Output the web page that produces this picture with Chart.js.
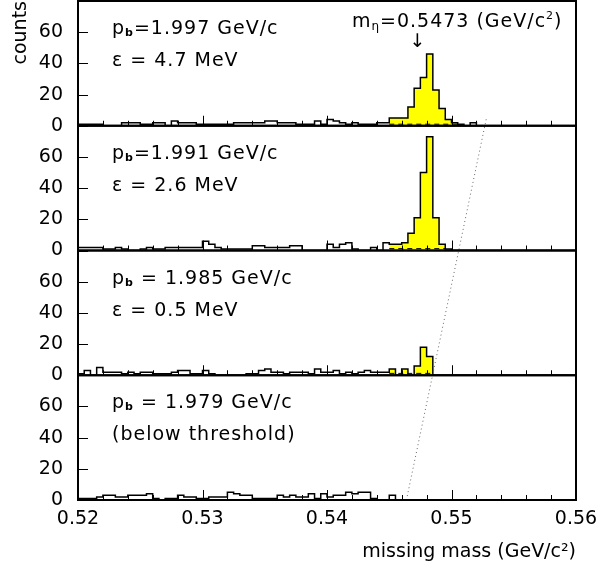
<!DOCTYPE html>
<html>
<head>
<meta charset="utf-8">
<script src="https://cdn.jsdelivr.net/npm/chart.js@4.4.0/dist/chart.umd.min.js"></script>
<style>
  html, body { margin: 0; padding: 0; background: #fff; }
  #wrap { width: 600px; height: 573px; }
</style>
</head>
<body>
<div id="wrap"><canvas id="chart" width="600" height="573"></canvas></div>
<script>
// histogram range, 0.5 MeV bins
const massMin = 0.52;
const massMax = 0.56;
const binWidth = 0.0005;

// counts per bin, one array per beam momentum (top to bottom)
const countsP1 = [1,1,1,1,0,0,0,2,2,2, 1,1,2,2,0,3,2,2,2,1, 1,1,1,1,1,2,2,2,2,2, 3,3,2,2,2,1,1,1,3,1,
                  4,3,2,1,2,1,1,1,2,2, 5,5,5,12,24,31,46,23,11,4, 2,1,0,2,0,0,0,0,0,0, 0,0,0,0,0,0,0,0,0,0];
const countsP2 = [2,2,2,2,1,1,2,1,0,0, 1,2,1,1,2,2,2,2,2,2, 6,4,2,1,1,1,1,1,3,3, 2,2,2,2,3,3,0,0,0,0,
                  4,2,4,5,1,0,0,2,0,5, 4,4,5,11,21,50,73,21,4,1, 0,0,0,0,0,0,0,0,0,0, 0,0,0,0,0,0,0,0,0,0];
const countsP3 = [1,3,0,5,2,2,2,1,2,1, 2,2,1,1,1,2,3,3,1,1, 3,1,0,0,0,0,0,1,1,3, 4,2,2,1,2,2,2,1,4,2,
                  2,3,1,2,1,2,3,2,2,2, 4,0,4,0,6,18,12,0,0,0, 0,0,0,0,0,0,0,0,0,0, 0,0,0,0,0,0,0,0,0,0];
const countsP4 = [1,1,1,2,3,3,2,2,3,3, 3,4,1,0,1,1,3,2,2,1, 1,2,2,2,5,4,3,3,1,1, 1,1,3,2,3,2,2,4,1,4,
                  2,3,3,5,4,5,5,1,0,0, 3,0,0,0,0,0,0,0,0,0, 0,0,0,0,0,0,0,0,0,0, 0,0,0,0,0,0,0,0,0,0];
const panelCounts = [countsP1, countsP2, countsP3, countsP4];

// yellow (signal) region and dashed background level per panel
const peakRanges = [[0.545, 0.5505], [0.545, 0.5495], [0.545, 0.5485], null];
const bgLevels = [1, 1.2, 1.2, null];

const momentumText = ['=1.997 GeV/c', '=1.991 GeV/c', ' = 1.985 GeV/c', ' = 1.979 GeV/c'];
const secondLine = ['\u03b5 = 4.7 MeV', '\u03b5 = 2.6 MeV', '\u03b5 = 0.5 MeV', '(below threshold)'];
const etaMass = 0.5473;

// dotted threshold line: from bottom panel baseline up into the top panel
const thresholdLine = [
  { mass: 0.54638, panel: 3, count: 0 },
  { mass: 0.55281, panel: 0, count: 5 },
];

const yTicks = [0, 20, 40, 60];
const panelIds = ['y1', 'y2', 'y3', 'y4'];
const FONT = '"DejaVu Sans"';

function stepPoints(counts, from, to) {
  const pts = [];
  counts.forEach((c, i) => {
    const x0 = massMin + i * binWidth;
    if (x0 > from - 1e-9 && x0 < to - 1e-9) pts.push({ x: x0, y: c });
  });
  pts.push({ x: to, y: 0 });
  return pts;
}

function noPadding(s) {
  s.paddingTop = 0;
  s.paddingBottom = 0;
  s.paddingLeft = 0;
  s.paddingRight = 0;
}

const datasets = [];
panelCounts.forEach((counts, k) => {
  datasets.push({
    data: stepPoints(counts, massMin, massMax),
    yAxisID: panelIds[k],
    stepped: true,
    borderColor: '#000',
    borderWidth: 1.5,
    pointRadius: 0,
    fill: false,
  });
  if (bgLevels[k] !== null) {
    datasets.push({
      data: [{ x: peakRanges[k][0], y: bgLevels[k] }, { x: peakRanges[k][1], y: bgLevels[k] }],
      yAxisID: panelIds[k],
      borderColor: '#000',
      borderWidth: 1,
      borderDash: [5, 4],
      pointRadius: 0,
      fill: false,
    });
  }
  if (peakRanges[k] !== null) {
    datasets.push({
      data: stepPoints(counts, peakRanges[k][0], peakRanges[k][1]),
      yAxisID: panelIds[k],
      stepped: true,
      borderWidth: 0,
      borderColor: 'rgba(0,0,0,0)',
      backgroundColor: '#ffff00',
      pointRadius: 0,
      fill: 'origin',
    });
  }
});

const scales = {
  x: {
    type: 'linear',
    min: massMin,
    max: massMax,
    grid: { display: false, drawTicks: false },
    border: { display: false },
    ticks: { stepSize: 0.01, padding: 8, maxRotation: 0, autoSkip: false, callback: (v) => v.toFixed(2) },
    title: { display: true, text: 'missing mass (GeV/c\u00b2)', align: 'end', padding: { top: 4, bottom: 10 } },
    afterFit: (s) => { s.height = 73; noPadding(s); },
  },
};
panelIds.forEach((id, k) => {
  scales[id] = {
    type: 'linear',
    position: 'left',
    stack: 'panels',
    stackWeight: 1,
    weight: 4 - k,
    min: 0,
    max: 80,
    grid: { display: false, drawTicks: false },
    border: { display: false },
    afterBuildTicks: (s) => { s.ticks = yTicks.map((v) => ({ value: v })); },
    ticks: { padding: 15, autoSkip: false },
    title: k === 0
      ? { display: true, text: 'counts', align: 'end', padding: { top: 10, bottom: 4 } }
      : { display: false },
    afterFit: (s) => { s.width = 78; noPadding(s); },
  };
});

function drawRich(ctx, parts, x, y) {
  parts.forEach((p) => {
    ctx.font = p.font;
    ctx.fillText(p.t, x, y + (p.dy || 0));
    x += ctx.measureText(p.t).width;
  });
}

const panelDecor = {
  id: 'panelDecor',
  afterDatasetsDraw(chart) {
    const ctx = chart.ctx;
    const xs = chart.scales.x;
    const area = chart.chartArea;
    ctx.save();

    // threshold line
    const p0 = thresholdLine[0];
    const p1 = thresholdLine[1];
    ctx.lineWidth = 1;
    ctx.strokeStyle = '#666';
    ctx.setLineDash([1, 3]);
    ctx.beginPath();
    ctx.moveTo(xs.getPixelForValue(p0.mass), chart.scales[panelIds[p0.panel]].getPixelForValue(p0.count));
    ctx.lineTo(xs.getPixelForValue(p1.mass), chart.scales[panelIds[p1.panel]].getPixelForValue(p1.count));
    ctx.stroke();
    ctx.setLineDash([]);
    ctx.strokeStyle = '#000';

    panelIds.forEach((id) => {
      const ys = chart.scales[id];
      ctx.lineWidth = 1;
      ctx.beginPath();
      yTicks.forEach((v) => {
        const py = Math.round(ys.getPixelForValue(v)) + 0.5;
        ctx.moveTo(area.left, py);
        ctx.lineTo(area.left + 10, py);
      });
      for (let i = 0; i <= 20; i++) {
        const px = Math.round(xs.getPixelForValue(massMin + i * 0.002)) + 0.5;
        const len = i % 5 === 0 ? 10 : 5;
        ctx.moveTo(px, ys.bottom);
        ctx.lineTo(px, ys.bottom - len);
      }
      ctx.stroke();
      ctx.lineWidth = 2;
      ctx.strokeRect(area.left, ys.top, area.right - area.left, ys.bottom - ys.top);
    });
    ctx.restore();
  },
  afterDraw(chart) {
    const ctx = chart.ctx;
    const xs = chart.scales.x;
    ctx.save();
    ctx.fillStyle = '#000';
    ctx.textBaseline = 'alphabetic';
    ctx.letterSpacing = '1px';
    const main = '19px ' + FONT;
    panelIds.forEach((id, k) => {
      const top = chart.scales[id].top;
      drawRich(ctx, [
        { t: 'p', font: main },
        { t: 'b', font: 'bold 11px ' + FONT, dy: 2 },
        { t: momentumText[k], font: main },
      ], 112, top + 33);
      drawRich(ctx, [{ t: secondLine[k], font: main }], 112, top + 65);
    });
    const ax = xs.getPixelForValue(etaMass);
    const top1 = chart.scales.y1.top;
    drawRich(ctx, [
      { t: 'm', font: main },
      { t: '\u03b7', font: '12px ' + FONT, dy: 3 },
      { t: '=0.5473 (GeV/c', font: main },
      { t: '2', font: '11px ' + FONT, dy: -8 },
      { t: ')', font: main },
    ], ax - 66, top1 + 26);
    ctx.font = main;
    ctx.textAlign = 'center';
    ctx.fillText('\u2193', ax, top1 + 46);
    ctx.restore();
  },
};

Chart.defaults.font.family = FONT;
Chart.defaults.font.size = 19;
Chart.defaults.color = '#000';

new Chart(document.getElementById('chart'), {
  type: 'line',
  data: { datasets },
  options: {
    responsive: false,
    animation: false,
    devicePixelRatio: 1,
    layout: { padding: { top: 1, right: 24, left: 0, bottom: 0 } },
    plugins: { legend: { display: false }, tooltip: { enabled: false } },
    scales,
  },
  plugins: [panelDecor],
});
</script>
</body>
</html>
